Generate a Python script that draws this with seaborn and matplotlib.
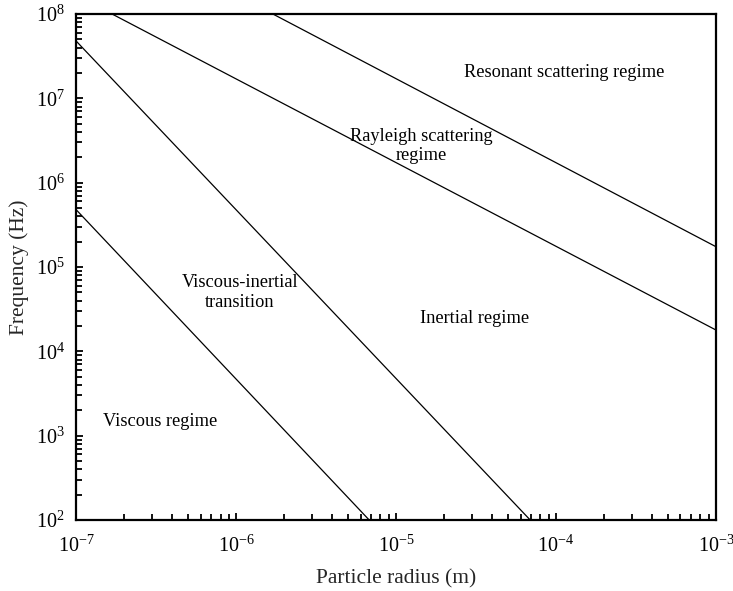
import matplotlib
matplotlib.use("Agg")
import matplotlib.pyplot as plt
import matplotlib.ticker as mticker
import seaborn as sns
import pandas as pd

# Boundary lines (endpoints, log-log straight lines)
viscous_radius = [1e-7, 6.8e-6]
viscous_freq = [4.8e5, 1e2]
transition_radius = [1e-7, 6.9e-5]
transition_freq = [4.8e7, 1e2]
rayleigh_radius = [1.68e-7, 1e-3]
rayleigh_freq = [1e8, 1.79e4]
resonant_radius = [1.7e-6, 1e-3]
resonant_freq = [1e8, 1.74e5]

region_labels = ["Resonant scattering regime", "Rayleigh scattering\nregime",
                 "Viscous-inertial\ntransition", "Inertial regime", "Viscous regime"]

rows = []
for name, xs, ys in [("viscous", viscous_radius, viscous_freq),
                     ("transition", transition_radius, transition_freq),
                     ("rayleigh", rayleigh_radius, rayleigh_freq),
                     ("resonant", resonant_radius, resonant_freq)]:
    for x, y in zip(xs, ys):
        rows.append({"boundary": name, "radius": x, "freq": y})
df = pd.DataFrame(rows)

sns.set_style("ticks")
plt.rcParams["font.family"] = ["Liberation Serif", "DejaVu Serif"]
plt.rcParams["mathtext.fontset"] = "stix"

fig, ax = plt.subplots(figsize=(7.33, 5.91), dpi=100)
fig.subplots_adjust(left=0.1037, right=0.9768, top=0.9763, bottom=0.1201)

sns.lineplot(data=df, x="radius", y="freq", units="boundary", estimator=None,
             color="black", linewidth=0.9, sort=False, ax=ax, legend=False)

ax.set_xscale("log")
ax.set_yscale("log")
ax.set_xlim(1e-7, 1e-3)
ax.set_ylim(1e2, 1e8)

ax.xaxis.set_major_locator(mticker.LogLocator(base=10, numticks=10))
ax.yaxis.set_major_locator(mticker.LogLocator(base=10, numticks=10))
ax.xaxis.set_minor_locator(mticker.LogLocator(base=10, subs=range(2, 10), numticks=20))
ax.yaxis.set_minor_locator(mticker.LogLocator(base=10, subs=range(2, 10), numticks=20))
ax.xaxis.set_major_formatter(mticker.LogFormatterMathtext())
ax.yaxis.set_major_formatter(mticker.LogFormatterMathtext())
ax.xaxis.set_minor_formatter(mticker.NullFormatter())
ax.yaxis.set_minor_formatter(mticker.NullFormatter())
ax.xaxis.get_offset_text().set_visible(False)
ax.yaxis.get_offset_text().set_visible(False)

ax.tick_params(which="both", direction="in", top=False, right=False, width=1.3,
               colors="black", labelsize=14.5)
ax.tick_params(which="major", length=5)
ax.tick_params(axis="x", which="major", pad=11)
ax.tick_params(axis="y", which="major", pad=8)
ax.tick_params(which="minor", length=4)

for s in ax.spines.values():
    s.set_linewidth(1.6)
    s.set_color("black")
    s.set_visible(True)

ax.set_xlabel("Particle radius (m)", fontsize=15.5, labelpad=9)
ax.set_ylabel("Frequency (Hz)", fontsize=15.5, labelpad=5)

pos = [(0.7625, 0.885), (0.54, 0.739), (0.256, 0.45), (0.623, 0.399), (0.131, 0.194)]
for (x, y), t in zip(pos, region_labels):
    ax.text(x, y, t, transform=ax.transAxes, ha="center", va="center",
            fontsize=13.2, linespacing=1.2, color="black")

fig.savefig("out.png", dpi=100, facecolor="white")
